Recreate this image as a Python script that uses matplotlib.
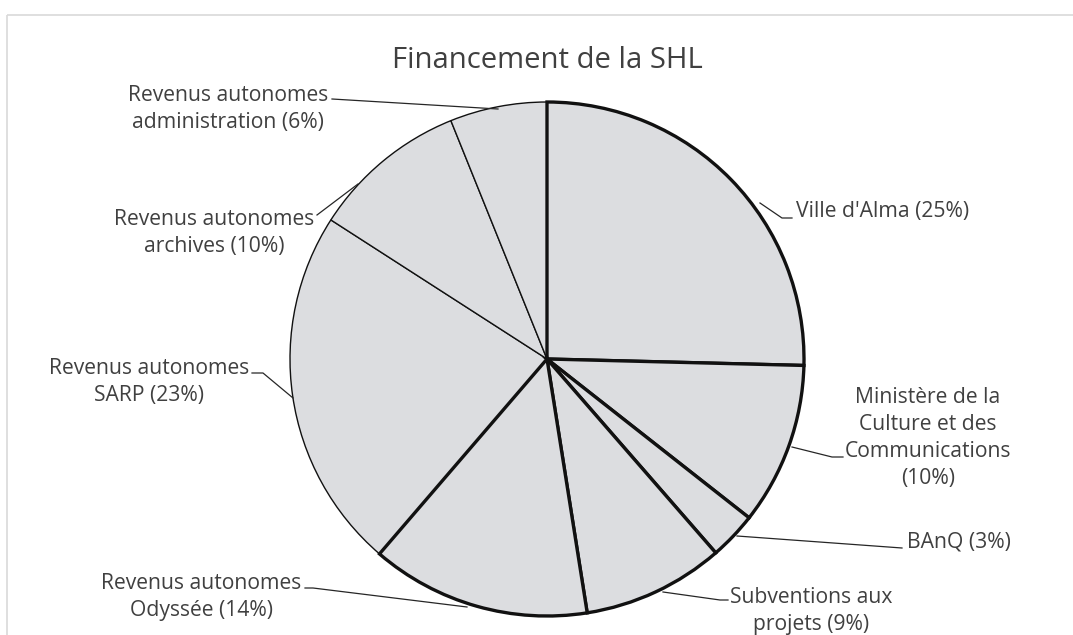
import matplotlib
matplotlib.use("Agg")
import matplotlib.pyplot as plt
from matplotlib.textpath import TextPath
from matplotlib.font_manager import FontProperties

# ---- data ----
categories = ["Ville d'Alma", "Ministère de la Culture et des Communications", "BAnQ",
              "Subventions aux projets", "Revenus autonomes Odyssée", "Revenus autonomes SARP",
              "Revenus autonomes archives", "Revenus autonomes administration"]
values = [25.4, 10.2, 3.0, 8.9, 13.8, 22.8, 9.8, 6.1]
labels = ["Ville d'Alma (25%)",
          "Ministère de la\nCulture et des\nCommunications\n(10%)",
          "BAnQ (3%)",
          "Subventions aux\nprojets (9%)",
          "Revenus autonomes\nOdyssée (14%)",
          "Revenus autonomes\nSARP (23%)",
          "Revenus autonomes\narchives (10%)",
          "Revenus autonomes\nadministration (6%)"]
title = "Financement de la SHL"

# ---- layout (pixel coordinates, y downward) ----
W, H, DPI = 1073, 635, 100
center = (547, 359)
radius = 257
thick = [True, True, True, True, True, False, False, False]
label_pos = [(796, 212, 'left'), (928, 438, 'center'), (907, 542, 'left'),
             (811, 611, 'center'), (201, 597, 'center'), (149, 382, 'center'),
             (214, 233, 'center'), (228, 109, 'center')]
leaders = [[(760, 203), (782, 218), (792, 218)],
           [(792, 447), (832, 457), (843, 457)],
           [(737, 536), (902, 548)],
           [(663, 592), (720, 600), (728, 600)],
           [(467, 607), (313, 588), (305, 588)],
           [(293, 398), (263, 373), (252, 373)],
           [(358, 184), (317, 215)],
           [(498, 109), (332, 99)]]

FONT = "Open Sans"
TEXT_COLOR = "#404040"


def fit_size(s, target_px):
    fp = FontProperties(family=FONT)
    w1 = TextPath((0, 0), s, size=1, prop=fp).get_extents().width
    return target_px * 72.0 / (w1 * DPI)


lab_size = fit_size("Revenus autonomes", 198)
title_size = fit_size(title, 307)

fig = plt.figure(figsize=(W / DPI, H / DPI), dpi=DPI)
ax = fig.add_axes([0, 0, 1, 1])

wedges, _ = ax.pie(values, startangle=-90, counterclock=True, center=center,
                   radius=radius, colors=["#dcdde0"] * len(values))
for w, t in zip(wedges, thick):
    w.set_edgecolor("#111111")
    w.set_linewidth(2.4 if t else 1.0)
    w.set_zorder(3 if t else 2)
    w.set_joinstyle("miter")

ax.set_xlim(0, W)
ax.set_ylim(H, 0)
ax.set_aspect("equal")
ax.axis("off")

# chart frame
ax.plot([7, W + 5], [15, 15], color="#d9d9d9", lw=1.2, zorder=1, solid_capstyle="butt")
ax.plot([7, 7], [15, H + 5], color="#d9d9d9", lw=1.2, zorder=1, solid_capstyle="butt")

for pts in leaders:
    xs, ys = zip(*pts)
    ax.plot(xs, ys, color="#262626", lw=0.9, zorder=4)

for lab, (x, y, ha) in zip(labels, label_pos):
    ax.text(x, y, lab, ha=ha, va="center", multialignment="center",
            fontsize=lab_size, family=FONT, color=TEXT_COLOR, linespacing=1.39, zorder=5)

ax.text(547, 60, title, ha="center", va="center", fontsize=title_size,
        family=FONT, color=TEXT_COLOR)

fig.savefig("out.png", dpi=DPI)
